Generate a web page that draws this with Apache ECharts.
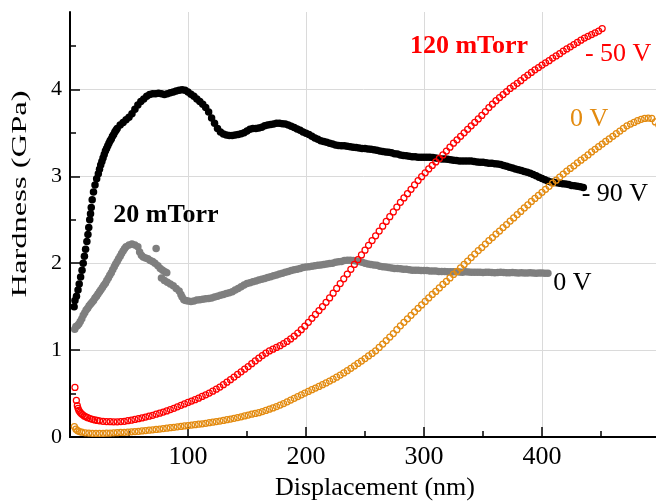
<!DOCTYPE html>
<html>
<head>
<meta charset="utf-8">
<script src="https://cdn.jsdelivr.net/npm/echarts@6/dist/echarts.min.js"></script>
<style>
  html, body { margin: 0; padding: 0; background: #fff; }
  #chart { width: 656px; height: 501px; }
</style>
</head>
<body>
<div id="chart"></div>
<script>
// Nanoindentation hardness profiles: [displacement (nm), hardness (GPa)]

// 20 mTorr, -90 V bias (filled black dots)
const hard20mTorrM90V = [
  [3.5,1.50],[4.2,1.57],[5.5,1.62],[6.8,1.69],[7.8,1.76],[9,1.84],[10.2,1.92],[11.2,2.0],
  [12.2,2.08],[13.2,2.16],[14.3,2.25],[15.2,2.33],[15.9,2.41],[16.7,2.5],[17.4,2.57],[18,2.64],
  [18.8,2.73],[19.9,2.82],[21.2,2.9],[22.6,2.97],[24,3.03],[25,3.08],[26,3.13],[27,3.17],
  [28,3.21],[29,3.25],[30,3.29],[31,3.32],[32,3.35],[33,3.38],[34,3.41],[35,3.43],[36,3.46],
  [37,3.48],[38,3.51],[39,3.53],[40,3.55],[42.5,3.59],[45,3.62],[47.5,3.65],[50,3.68],
  [52.5,3.72],[55,3.77],[57.5,3.82],[60,3.86],[62.5,3.89],[65,3.92],[67.5,3.94],[70,3.95],
  [72.5,3.95],[75,3.955],[77.5,3.95],[80,3.94],[82.5,3.95],[85,3.96],[87.5,3.97],[90,3.98],
  [92.5,3.99],[95,3.995],[97.5,3.99],[100,3.97],[102.5,3.945],[105,3.92],[107.5,3.89],
  [110,3.86],[112.5,3.83],[115,3.79],[117.5,3.74],[120,3.67],[122.5,3.61],[125,3.55],
  [127.5,3.51],[130,3.485],[132.5,3.475],[135,3.47],[137.5,3.47],[140,3.475],[142.5,3.48],
  [145,3.49],[147.5,3.50],[150,3.52],[152.5,3.54],[155,3.55],[157.5,3.55],[160,3.555],
  [162.5,3.565],[165,3.58],[167.5,3.59],[170,3.595],[172.5,3.60],[175,3.61],[177.5,3.61],
  [180,3.605],[182.5,3.60],[185,3.59],[187.5,3.575],[190,3.56],[192.5,3.545],[195,3.53],
  [197.5,3.51],[200,3.495],[202.5,3.48],[205,3.46],[207.5,3.44],[210,3.425],[212.5,3.41],
  [215,3.40],[217.5,3.39],[220,3.38],[222.5,3.37],[225,3.36],[227.5,3.355],[230,3.35],
  [232.5,3.35],[235,3.345],[237.5,3.34],[240,3.335],[242.5,3.33],[245,3.325],[247.5,3.32],
  [250,3.32],[252.5,3.315],[255,3.31],[257.5,3.305],[260,3.30],[262.5,3.29],[265,3.285],
  [267.5,3.28],[270,3.275],[272.5,3.27],[275,3.26],[277.5,3.255],[280,3.245],[282.5,3.24],
  [285,3.235],[287.5,3.23],[290,3.225],[292.5,3.225],[295,3.22],[297.5,3.22],[300,3.22],
  [302.5,3.22],[305,3.22],[307.5,3.215],[310,3.21],[312.5,3.205],[315,3.20],[317.5,3.20],
  [320,3.195],[322.5,3.19],[325,3.185],[327.5,3.18],[330,3.175],[332.5,3.175],[335,3.175],
  [337.5,3.175],[340,3.175],[342.5,3.17],[345,3.165],[347.5,3.16],[350,3.16],[352.5,3.155],
  [355,3.15],[357.5,3.15],[360,3.145],[362.5,3.14],[365,3.135],[367.5,3.125],[370,3.115],
  [372.5,3.105],[375,3.095],[377.5,3.085],[380,3.075],[382.5,3.065],[385,3.055],[387.5,3.045],
  [390,3.035],[392.5,3.02],[395,3.005],[397.5,2.99],[400,2.975],[402.5,2.96],[405,2.945],
  [407.5,2.935],[410,2.93],[412.5,2.925],[415,2.92],[417.5,2.915],[420,2.91],[422.5,2.905],
  [425,2.895],[427.5,2.89],[430,2.885],[432.5,2.88],[435,2.87]
];

// 20 mTorr, 0 V bias (filled grey dots)
const hard20mTorr0V = [
  [4,1.24],[5,1.27],[6.2,1.28],[7.5,1.30],[8.7,1.33],[10,1.36],[11.2,1.40],[12.5,1.43],
  [13.7,1.46],[15,1.48],[16.2,1.51],[17.5,1.53],[18.7,1.55],[20,1.57],[21.2,1.60],[22.5,1.62],
  [23.7,1.645],[25,1.67],[26.2,1.695],[27.5,1.72],[28.7,1.745],[30,1.77],[31.2,1.80],[32.5,1.83],
  [33.7,1.86],[35,1.89],[36.2,1.925],[37.5,1.96],[38.7,1.99],[40,2.02],[41.2,2.05],[42.5,2.08],
  [43.7,2.11],[45,2.14],[46.2,2.165],[47.5,2.19],[50,2.21],[52.5,2.22],[55,2.21],[57.5,2.19],
  [59,2.13],[60.5,2.09],[62,2.07],[64,2.06],[66,2.05],[68,2.03],[70,2.02],[72,2.0],[73,2.17],
  [74.5,1.97],[76.5,1.94],[78.5,1.92],[80.5,1.90],[82,1.89],[77.5,1.83],[80,1.80],
  [82.5,1.78],[85,1.76],[87.5,1.74],[90,1.71],[92.5,1.68],[94,1.64],[95,1.61],[96.5,1.58],
  [98,1.57],[100,1.565],[102.5,1.56],[105,1.565],[107.5,1.575],[110,1.58],[112.5,1.585],
  [115,1.59],[117.5,1.595],[120,1.60],[122.5,1.61],[125,1.62],[127.5,1.63],[130,1.64],
  [132.5,1.65],[135,1.66],[137.5,1.67],[140,1.69],[142.5,1.71],[145,1.73],[147.5,1.75],
  [150,1.765],[152.5,1.775],[155,1.785],[157.5,1.795],[160,1.805],[162.5,1.815],[165,1.825],
  [167.5,1.835],[170,1.845],[172.5,1.855],[175,1.865],[177.5,1.875],[180,1.885],[182.5,1.895],
  [185,1.905],[187.5,1.915],[190,1.925],[192.5,1.93],[195,1.94],[197.5,1.95],[200,1.955],
  [202.5,1.96],[205,1.965],[207.5,1.97],[210,1.975],[212.5,1.98],[215,1.985],[217.5,1.99],
  [220,1.995],[222.5,2.0],[225,2.01],[227.5,2.015],[230,2.02],[232.5,2.03],[235,2.035],
  [237.5,2.035],[240,2.03],[242.5,2.025],[245,2.02],[247.5,2.01],[250,2.0],[252.5,1.99],
  [255,1.985],[257.5,1.98],[260,1.975],[262.5,1.965],[265,1.96],[267.5,1.955],[270,1.95],
  [272.5,1.945],[275,1.94],[277.5,1.94],[280,1.935],[282.5,1.93],[285,1.93],[287.5,1.925],
  [290,1.92],[292.5,1.92],[295,1.92],[297.5,1.915],[300,1.915],[302.5,1.915],[305,1.91],
  [307.5,1.91],[310,1.91],[312.5,1.905],[315,1.905],[317.5,1.905],[320,1.90],[322.5,1.90],
  [325,1.90],[327.5,1.90],[330,1.898],[332.5,1.897],[335,1.90],[337.5,1.898],[340,1.895],
  [342.5,1.895],[345,1.897],[347.5,1.895],[350,1.893],[352.5,1.895],[355,1.895],[357.5,1.893],
  [360,1.89],[362.5,1.892],[365,1.895],[367.5,1.893],[370,1.89],[372.5,1.89],[375,1.892],
  [377.5,1.89],[380,1.888],[382.5,1.89],[385,1.888],[387.5,1.887],[390,1.89],[392.5,1.888],
  [395,1.885],[397.5,1.887],[400,1.886],[402.5,1.885],[405,1.885]
];

// 120 mTorr, -50 V bias (open red circles)
const hard120mTorrM50V = [
  [4.2,0.57],[5.4,0.42],[6.2,0.36],[6.8,0.33],[7.5,0.305],[8.5,0.285],[9.5,0.27],[10.5,0.258],
  [12,0.243],[13.5,0.232],[15,0.222],[17,0.212],[19,0.204],[21,0.197],[23,0.191],[25,0.186],
  [28,0.181],[31,0.178],[34,0.176],[37,0.175],[40,0.175],[43,0.177],[46,0.181],[49,0.187],
  [52,0.194],[55,0.202],[58,0.211],[61,0.22],[64,0.229],[67,0.239],[70,0.25],[73,0.262],
  [76,0.274],[79,0.287],[82,0.30],[85,0.315],[88,0.33],[91,0.347],[94,0.364],[97,0.381],
  [100,0.398],[103,0.414],[106,0.43],[109,0.447],[112,0.466],[115,0.485],[118,0.505],
  [121,0.527],[124,0.55],[127,0.575],[130,0.602],[133,0.63],[136,0.66],[139,0.69],[142,0.72],
  [145,0.75],[148,0.78],[151,0.81],[154,0.843],[157,0.875],[160,0.907],[163,0.937],[166,0.965],
  [169,0.99],[172,1.01],[175,1.03],[178,1.05],[181,1.075],[184,1.10],[187,1.128],[190,1.16],
  [193,1.196],[196,1.235],[199,1.275],[202,1.32],[205,1.365],[208,1.41],[211,1.455],[214,1.50],
  [217,1.55],[220,1.60],[223,1.655],[226,1.71],[229,1.765],[232,1.82],[235,1.875],[238,1.93],
  [241,1.985],[244,2.04],[247,2.095],[250,2.15],[253,2.205],[256,2.26],[259,2.315],[262,2.37],
  [265,2.425],[268,2.48],[271,2.535],[274,2.59],[277,2.645],[280,2.70],[283,2.75],[286,2.80],
  [289,2.85],[292,2.90],[295,2.95],[298,2.995],[301,3.04],[304,3.085],[307,3.125],[310,3.165],
  [313,3.205],[316,3.245],[319,3.29],[322,3.335],[325,3.38],[328,3.42],[331,3.46],[334,3.50],
  [337,3.54],[340,3.58],[343,3.62],[346,3.66],[349,3.70],[352,3.745],[355,3.79],[358,3.83],
  [361,3.87],[364,3.905],[367,3.94],[370,3.975],[373,4.01],[376,4.04],[379,4.07],[382,4.10],
  [385,4.135],[388,4.165],[391,4.195],[394,4.225],[397,4.25],[400,4.28],[403,4.305],[406,4.33],
  [409,4.36],[412,4.385],[415,4.41],[418,4.44],[421,4.465],[424,4.49],[427,4.515],[430,4.54],
  [433,4.565],[436,4.59],[439,4.61],[442,4.63],[445,4.65],[448,4.67],[451,4.70]
];

// 120 mTorr, 0 V bias (open orange circles)
const hard120mTorr0V = [
  [3.7,0.12],[5,0.09],[6.5,0.072],[8,0.062],[10,0.055],[13,0.048],[16,0.045],[19,0.043],
  [22,0.042],[25,0.042],[28,0.043],[31,0.044],[34,0.046],[37,0.048],[40,0.05],[43,0.052],
  [46,0.054],[49,0.057],[52,0.06],[55,0.063],[58,0.066],[61,0.07],[64,0.074],[67,0.078],
  [70,0.082],[73,0.087],[76,0.092],[79,0.097],[82,0.102],[85,0.107],[88,0.112],[91,0.117],
  [94,0.122],[97,0.127],[100,0.132],[103,0.137],[106,0.142],[109,0.147],[112,0.152],
  [115,0.158],[118,0.164],[121,0.17],[124,0.177],[127,0.184],[130,0.191],[133,0.199],
  [136,0.207],[139,0.215],[142,0.223],[145,0.232],[148,0.242],[151,0.252],[154,0.263],
  [157,0.271],[160,0.28],[163,0.293],[166,0.306],[169,0.32],[172,0.335],[175,0.35],
  [178,0.367],[181,0.385],[184,0.405],[187,0.425],[190,0.445],[193,0.465],[196,0.485],
  [199,0.505],[202,0.524],[205,0.544],[208,0.563],[211,0.582],[214,0.602],[217,0.622],
  [220,0.643],[223,0.665],[226,0.688],[229,0.712],[232,0.737],[235,0.763],[238,0.79],
  [241,0.818],[244,0.846],[247,0.874],[250,0.903],[253,0.932],[256,0.962],[259,0.992],
  [262,1.03],[265,1.07],[268,1.11],[271,1.15],[274,1.19],[277,1.235],[280,1.28],[283,1.32],
  [286,1.36],[289,1.40],[292,1.44],[295,1.48],[298,1.52],[301,1.56],[304,1.60],[307,1.64],
  [310,1.675],[313,1.715],[316,1.755],[319,1.79],[322,1.83],[325,1.87],[328,1.905],[331,1.945],
  [334,1.985],[337,2.025],[340,2.065],[343,2.105],[346,2.145],[349,2.18],[352,2.22],[355,2.26],
  [358,2.295],[361,2.335],[364,2.37],[367,2.41],[370,2.445],[373,2.485],[376,2.52],[379,2.56],
  [382,2.595],[385,2.635],[388,2.67],[391,2.71],[394,2.745],[397,2.78],[400,2.815],[403,2.85],
  [406,2.885],[409,2.92],[412,2.955],[415,2.99],[418,3.025],[421,3.06],[424,3.09],[427,3.12],
  [430,3.155],[433,3.185],[436,3.215],[439,3.245],[442,3.28],[445,3.31],[448,3.34],[451,3.37],
  [454,3.40],[457,3.43],[460,3.46],[463,3.49],[466,3.52],[469,3.55],[472,3.58],[475,3.60],
  [478,3.62],[481,3.64],[484,3.655],[487,3.665],[490,3.67],[493,3.665],[496,3.625],[499,3.59]
];

// Axis ranges and tick values
const xRange = [0, 500];
const yRange = [0, 4.89];
const yMajorTicks = [0, 1, 2, 3, 4];
const yMinorTicks = [0.5, 1.5, 2.5, 3.5, 4.5];

// Curve annotations anchored in data coordinates (left edge, vertical middle)
const annotations = [
  { text: '20 mTorr',  at: [36.7, 2.555], color: '#000000', bold: true },
  { text: '120 mTorr', at: [288.1, 4.49], color: '#ff0000', bold: true },
  { text: '- 50 V',    at: [436.4, 4.40], color: '#ff0000', bold: false },
  { text: '0 V',       at: [423.7, 3.655], color: '#e38b10', bold: false },
  { text: '- 90 V',    at: [433.6, 2.79], color: '#000000', bold: false },
  { text: '0 V',       at: [409.6, 1.772], color: '#000000', bold: false }
];

const SERIF = '"Liberation Serif", "Times New Roman", serif';
const chart = echarts.init(document.getElementById('chart'), null, { renderer: 'canvas' });

const filledDots = (name, data, color) => ({
  name, type: 'scatter', data,
  symbol: 'circle', symbolSize: 7.5,
  itemStyle: { color, opacity: 1 },
  silent: true, z: 3
});
const openRings = (name, data, color) => ({
  name, type: 'scatter', data,
  symbol: 'circle', symbolSize: 6,
  itemStyle: { color: 'rgba(0,0,0,0)', borderColor: color, borderWidth: 1.25, opacity: 1 },
  silent: true, z: 4
});

chart.setOption({
  animation: false,
  backgroundColor: '#ffffff',
  grid: { left: 70, top: 12, width: 590, bottom: 64, containLabel: false, outerBoundsMode: 'none' },
  xAxis: [
    {
      type: 'value', min: xRange[0], max: xRange[1], interval: 100, position: 'bottom',
      axisLine: { show: true, onZero: false, lineStyle: { color: '#000', width: 2 } },
      axisTick: { show: true, inside: true, length: 10, lineStyle: { color: '#000', width: 1.5 } },
      minorTick: { show: true, splitNumber: 2, length: 6, lineStyle: { color: '#000', width: 1.5 } },
      splitLine: { show: true, lineStyle: { color: '#dadada', width: 1 } },
      axisLabel: { showMinLabel: false, showMaxLabel: false, color: '#000', fontFamily: SERIF, fontSize: 26, margin: 7 },
      name: 'Displacement (nm)', nameLocation: 'middle', nameGap: 35,
      nameTextStyle: { color: '#000', fontFamily: SERIF, fontSize: 26, padding: [0, 0, 0, 20] }
    },
    {
      type: 'value', min: xRange[0], max: xRange[1], position: 'top',
      axisLine: { show: true, lineStyle: { color: '#000', width: 2 } },
      axisTick: { show: false }, axisLabel: { show: false }, splitLine: { show: false }
    }
  ],
  yAxis: [
    {
      type: 'value', min: yRange[0], max: yRange[1], interval: 1, position: 'left',
      axisLine: { show: true, onZero: false, lineStyle: { color: '#000', width: 2 } },
      axisTick: { show: true, inside: true, length: 10, customValues: yMajorTicks,
                  lineStyle: { color: '#000', width: 1.5 } },
      splitLine: { show: true, lineStyle: { color: '#dadada', width: 1 } },
      axisLabel: { customValues: yMajorTicks, color: '#000', fontFamily: SERIF, fontSize: 22, margin: 8 }
    },
    {
      type: 'value', min: yRange[0], max: yRange[1], interval: 1, position: 'left',
      axisLine: { show: false },
      axisTick: { show: true, inside: true, length: 6, customValues: yMinorTicks,
                  lineStyle: { color: '#000', width: 1.5 } },
      axisLabel: { show: false }, splitLine: { show: false }
    }
  ],
  series: [
    filledDots('20 mTorr, 0 V', hard20mTorr0V, '#7f7f7f'),
    filledDots('20 mTorr, -90 V', hard20mTorrM90V, '#000000'),
    openRings('120 mTorr, 0 V', hard120mTorr0V, '#e38b10'),
    openRings('120 mTorr, -50 V', hard120mTorrM50V, '#ff0000')
  ]
});

// Rotated, horizontally widened y-axis title and the curve annotations
const graphics = [{
  type: 'text', x: 20, y: 194, rotation: Math.PI / 2, scaleX: 1.48, z: 10,
  style: {
    text: 'Hardness (GPa)', fill: '#000', font: '22px ' + SERIF,
    align: 'center', verticalAlign: 'middle', textAlign: 'center', textVerticalAlign: 'middle'
  }
}];
annotations.forEach(a => {
  const p = chart.convertToPixel({ xAxisIndex: 0, yAxisIndex: 0 }, a.at);
  graphics.push({
    type: 'text', x: p[0], y: p[1], z: 10,
    style: {
      text: a.text, fill: a.color,
      font: (a.bold ? 'bold ' : '') + '26px ' + SERIF,
      align: 'left', verticalAlign: 'middle', textAlign: 'left', textVerticalAlign: 'middle'
    }
  });
});
chart.setOption({ graphic: graphics });
</script>
</body>
</html>
